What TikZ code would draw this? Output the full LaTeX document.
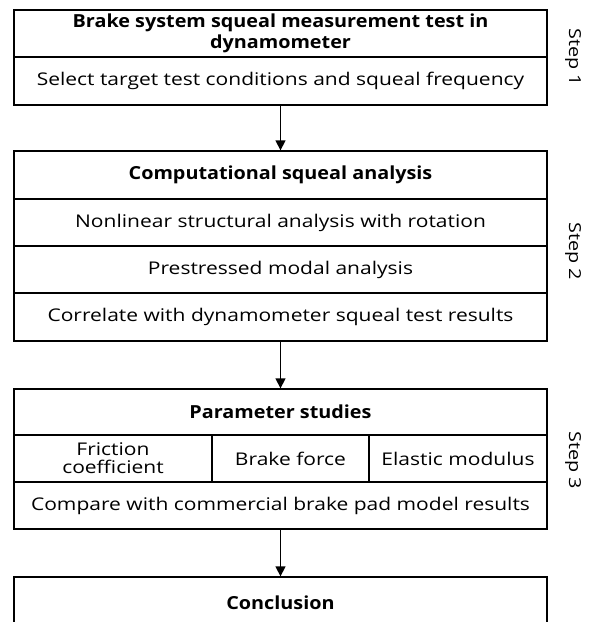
\documentclass[tikz,border=0pt]{standalone}
\usepackage{fontspec}
\setmainfont{Open Sans}
\newfontfamily\bodyfont[FakeStretch=1.2]{Open Sans}
\newfontfamily\headfont[FakeStretch=1.1]{Open Sans}
\usetikzlibrary{arrows.meta}
\begin{document}
\begin{tikzpicture}[x=1pt,y=-1pt,
  cell/.style={draw=black,line width=1.3pt,rectangle,inner sep=0pt,align=center,
    font=\bodyfont\fontsize{17.5}{19}\selectfont,text=black},
  head/.style={cell,font=\headfont\bfseries\fontsize{18}{20.5}\selectfont},
  flow/.style={draw=black,line width=1.3pt,-{Triangle[width=10pt,length=10pt]}},
  steplbl/.style={rotate=-90,font=\bodyfont\fontsize{16.5}{18}\selectfont,text=black}]
\useasboundingbox (0,0) rectangle (591,622);
% Step 1
\node[head,minimum width=533pt,minimum height=47pt] (b1t) at (280.5,33.5) {Brake system squeal measurement test in\\dynamometer};
\node[cell,minimum width=533pt,minimum height=48pt] (b1s) at (280.5,81) {Select target test conditions and squeal frequency};
% Step 2
\node[head,minimum width=533pt,minimum height=48pt] (b2t) at (280.5,175) {Computational squeal analysis};
\node[cell,minimum width=533pt,minimum height=47pt] (b2a) at (280.5,222.5) {Nonlinear structural analysis with rotation};
\node[cell,minimum width=533pt,minimum height=47pt] (b2b) at (280.5,269.5) {Prestressed modal analysis};
\node[cell,minimum width=533pt,minimum height=48pt] (b2c) at (280.5,317) {Correlate with dynamometer squeal test results};
% Step 3
\node[head,minimum width=533pt,minimum height=46pt] (b3t) at (280.5,412) {Parameter studies};
\node[cell,minimum width=198pt,minimum height=47pt] (b3f) at (113,458.5) {\raisebox{-6.5pt}[0pt][0pt]{\begin{tabular}{@{}c@{}}Friction\\[-1pt]coefficient\end{tabular}}};
\node[cell,minimum width=157pt,minimum height=47pt] (b3b) at (290.5,458.5) {Brake force};
\node[cell,minimum width=178pt,minimum height=47pt] (b3e) at (458,458.5) {Elastic modulus};
\node[cell,minimum width=533pt,minimum height=47pt] (b3c) at (280.5,505.5) {Compare with commercial brake pad model results};
% Conclusion
\node[head,minimum width=533pt,minimum height=52pt] (b4) at (280.5,603) {Conclusion};
% arrows
\draw[flow] (b1s.south) -- (b2t.north);
\draw[flow] (b2c.south) -- (b3t.north);
\draw[flow] (b3c.south) -- (b4.north);
% step labels
\node[steplbl] (s1) at (573,57) {Step 1};
\node[steplbl] (s2) at (573,251) {Step 2};
\node[steplbl] (s3) at (573,460) {Step 3};
\end{tikzpicture}
\end{document}
